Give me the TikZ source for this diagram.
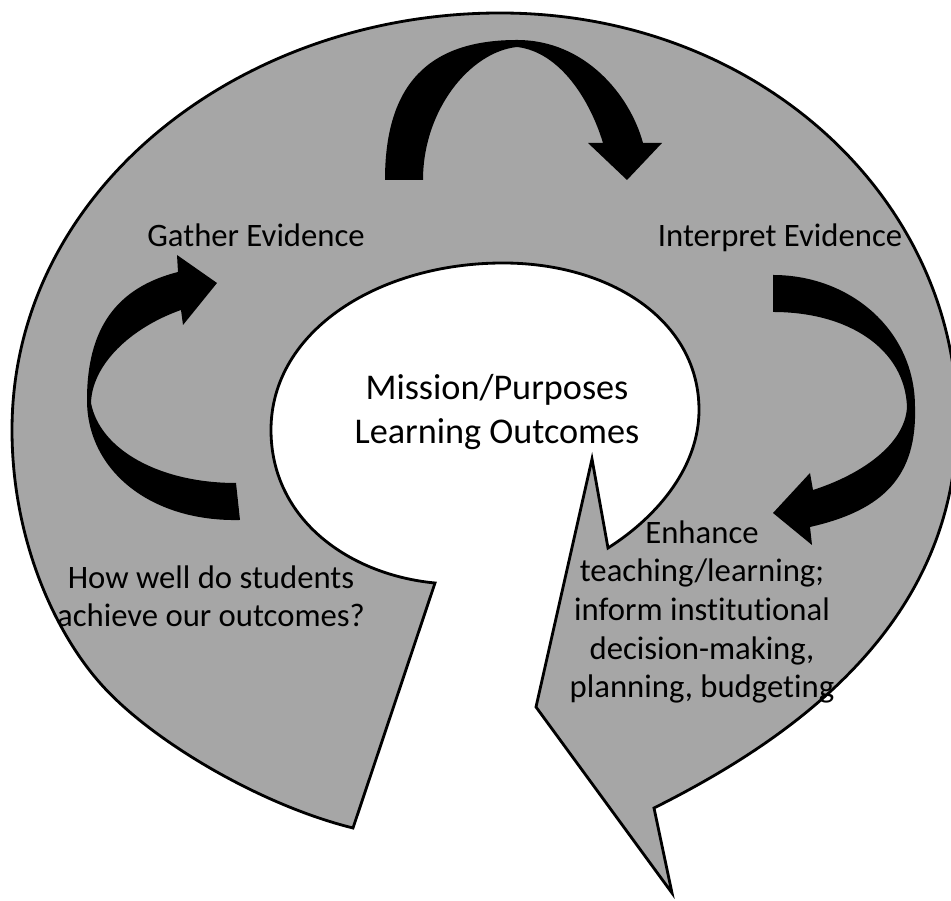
\documentclass[tikz,border=0pt]{standalone}
\usepackage{fontspec}
\setmainfont{Carlito}[Ligatures=NoCommon]
\usepackage{tikz}
\definecolor{ringgray}{RGB}{166,166,166}

\begin{document}
\begin{tikzpicture}[x=0.01cm, y=-0.01cm,
  lbl/.style={inner sep=0pt, align=center, font=\fontsize{9.3}{10.8}\selectfont},
  bigarrow/.style={fill=black, draw=none}]
\useasboundingbox (0,0) rectangle (951,901);

\draw[fill=ringgray, line width=0.8pt, line join=miter]
  (353,828) .. controls (260,805) and (150,740) .. (100,683)
  .. controls (55,632) and (12,540) .. (12,430)
  .. controls (12,190) and (240,13) .. (500,13)
  .. controls (760,13) and (957,200) .. (957,420)
  .. controls (957,620) and (800,735) .. (654,808)
  -- (672,893) -- (536,707) -- (592,459) -- (608,548)
  .. controls (660,515) and (699,465) .. (699,410)
  .. controls (699,320) and (610,263) .. (503,263)
  .. controls (380,263) and (271,330) .. (271,430)
  .. controls (271,520) and (350,575) .. (435,583)
  -- cycle;

\fill[bigarrow] (385,180) .. controls (385,85) and (428,40) .. (517,40)
  .. controls (585,40) and (630,95) .. (643,143) -- (662,143) -- (627,180) -- (588,143) -- (603,143)
  .. controls (590,100) and (560,52) .. (517,47) .. controls (470,52) and (423,110) .. (423,180) -- cycle;
\fill[bigarrow] (240,520) .. controls (150,522) and (87,470) .. (87,400)
  .. controls (87,330) and (115,288) .. (178,272) -- (177,255) -- (217,283) -- (183,325) -- (181,310)
  .. controls (130,328) and (92,365) .. (91,403) .. controls (100,450) and (160,483) .. (236,483) -- cycle;
\fill[bigarrow] (773,275) .. controls (850,275) and (915,330) .. (915,407)
  .. controls (917,475) and (885,510) .. (810,527) -- (812,545) -- (773,513) -- (810,473) -- (813,490)
  .. controls (860,475) and (905,445) .. (907,407) .. controls (905,350) and (850,312) .. (773,312) -- cycle;

\node[lbl, anchor=base] (gather) at (256,247) {Gather Evidence};
\node[lbl, anchor=base] (interpret) at (780,247) {Interpret Evidence};
\node[lbl, font=\fontsize{10.3}{12.5}\selectfont] (mission) at (497,412) {Mission/Purposes\\Learning Outcomes};
\node[lbl] (achieve) at (211,596) {How well do students\\achieve our outcomes?};
\node[lbl, font=\fontsize{9.3}{11}\selectfont] (enhance) at (702,612) {Enhance\\teaching/learning;\\inform institutional\\decision-making,\\planning, budgeting};
\end{tikzpicture}
\end{document}
